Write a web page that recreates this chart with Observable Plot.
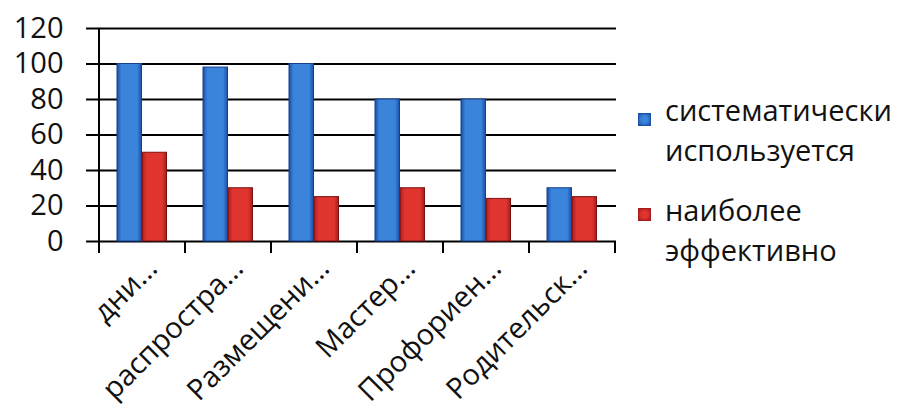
<!DOCTYPE html>
<html>
<head>
<meta charset="utf-8">
<script src="https://cdn.jsdelivr.net/npm/d3@7"></script>
<script src="https://cdn.jsdelivr.net/npm/@observablehq/plot@0.6"></script>
<style>
  html, body { margin: 0; padding: 0; background: #fff; }
  #wrap { position: relative; width: 901px; height: 406px; overflow: hidden; font-family: "Open Sans", sans-serif; }
  .leg { position: absolute; left: 638px; font-size: 29px; color: #111; line-height: 40px; }
  .leg .sw { position: absolute; left: 0; width: 11px; height: 11px; }
  .leg .tx { position: absolute; left: 27px; white-space: nowrap; }
</style>
</head>
<body>
<div id="wrap"></div>
<script>
const categories = ["дни…", "распростра…", "Размещени…", "Мастер…", "Профориен…", "Родительск…"];
const systematic = [100, 98, 100, 80, 80, 30];
const effective = [50, 30, 25, 30, 24, 25];
const yTicks = [0, 20, 40, 60, 80, 100, 120];
const seriesNames = ["систематически используется", "наиболее эффективно"];

const blueData = categories.map((c, i) => ({cat: c, value: systematic[i]}));
const redData = categories.map((c, i) => ({cat: c, value: effective[i]}));

function defs() {
  const svg = d3.create("svg:defs");
  const mk = (id, edge, mid) => {
    const g = svg.append("linearGradient").attr("id", id).attr("x1", "0").attr("x2", "1").attr("y1", "0").attr("y2", "0");
    g.append("stop").attr("offset", "0").attr("stop-color", edge);
    g.append("stop").attr("offset", "0.18").attr("stop-color", mid);
    g.append("stop").attr("offset", "0.82").attr("stop-color", mid);
    g.append("stop").attr("offset", "1").attr("stop-color", edge);
  };
  mk("gBlue", "#1c4fa6", "#3a84dc");
  mk("gRed", "#a51c1c", "#e0352f");
  return svg.node();
}

function axisLines(index, scales) {
  const x = scales.x, y = scales.y;
  const dom = x.domain();
  const bw = x.bandwidth ? x.bandwidth() : 0;
  const y0 = y(0), yTop = y(yTicks[yTicks.length - 1]);
  const g = d3.create("svg:g").attr("stroke", "#000").attr("stroke-width", 2);
  const xs = dom.map(d => x(d)).concat([x(dom[dom.length - 1]) + bw]);
  g.append("line").attr("x1", xs[0]).attr("x2", xs[0]).attr("y1", yTop).attr("y2", y0 + 12);
  for (const xv of xs) {
    g.append("line").attr("x1", xv).attr("x2", xv).attr("y1", y0).attr("y2", y0 + 12);
  }
  return g.node();
}

const chart = Plot.plot({
  width: 901,
  height: 406,
  marginLeft: 97,
  marginRight: 285,
  marginTop: 28,
  marginBottom: 165,
  style: {fontFamily: "'Open Sans', sans-serif", color: "#111", background: "transparent"},
  x: {domain: categories, padding: 0},
  y: {domain: [0, 120]},
  marks: [
    defs,
    Plot.ruleY(yTicks, {stroke: "#000", strokeWidth: 2}),
    Plot.axisY({ticks: yTicks, tickSize: 11, tickPadding: 23, fontSize: 29, stroke: "#000", strokeWidth: 2, fill: "#111", label: null}),
    Plot.barY(blueData, {x: "cat", y: "value", fill: "url(#gBlue)", stroke: "#16408c", strokeWidth: 1, insetLeft: 18, insetRight: 43.5}),
    Plot.barY(redData, {x: "cat", y: "value", fill: "url(#gRed)", stroke: "#7a1212", strokeWidth: 1, insetLeft: 43, insetRight: 18.5}),
    axisLines,
    Plot.axisX({tickSize: 0, tickPadding: 22, tickRotate: -45, dx: 10, fontSize: 29, fill: "#111", label: null})
  ]
});

const wrap = document.getElementById("wrap");
wrap.appendChild(chart);

const legendItems = [
  {top: 90, sw: 113, lines: ["систематически", "используется"], c1: "#1c4fa6", c2: "#3a84dc"},
  {top: 190, sw: 208, lines: ["наиболее", "эффективно"], c1: "#a51c1c", c2: "#e0352f"}
];
legendItems.forEach((it) => {
  const d = document.createElement("div");
  d.className = "leg";
  d.style.top = "0px";
  const sw = document.createElement("div");
  sw.className = "sw";
  sw.style.top = it.sw + "px";
  sw.style.background = `radial-gradient(circle, ${it.c2} 40%, ${it.c1} 100%)`;
  sw.style.border = `1px solid ${it.c1}`;
  d.appendChild(sw);
  it.lines.forEach((ln, j) => {
    const t = document.createElement("div");
    t.className = "tx";
    t.style.top = (it.top + j * 40) + "px";
    t.textContent = ln;
    d.appendChild(t);
  });
  wrap.appendChild(d);
});
</script>
</body>
</html>
